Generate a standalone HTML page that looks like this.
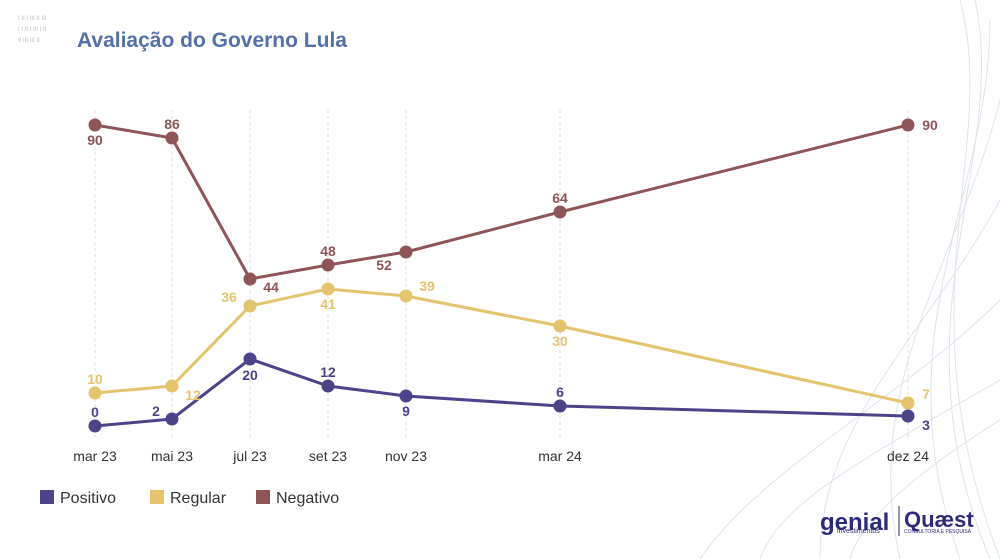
<!DOCTYPE html>
<html><head><meta charset="utf-8"><style>
html,body{margin:0;padding:0;background:#fff;width:1000px;height:559px;overflow:hidden;font-family:"Liberation Sans",sans-serif}
</style></head><body>
<svg width="1000" height="559" viewBox="0 0 1000 559" xmlns="http://www.w3.org/2000/svg" font-family="Liberation Sans, sans-serif">
<g stroke="#dde3ec" stroke-width="1" fill="none">
<path d="M960 0 C 1000 150, 900 300, 1000 559"/>
<path d="M975 0 C 1010 160, 890 320, 990 559"/>
<path d="M990 20 C 990 200, 880 330, 960 559"/>
<path d="M1000 100 C 960 260, 860 380, 900 559"/>
<path d="M1000 200 C 930 330, 820 420, 820 559"/>
<path d="M1000 300 C 900 400, 760 470, 700 559"/>
<path d="M1000 380 C 880 450, 780 500, 760 559"/>
<path d="M1000 420 C 920 470, 860 520, 850 559"/>
</g>
<g fill="#b8bcc8" font-size="6">
<text x="18" y="20">I  I&#8203;I I III  II  III</text>
<text x="18" y="31">I  I II  I  III I II</text>
<text x="18" y="42">II III  III  II</text>
</g>
<text x="77" y="47" font-size="21" font-weight="bold" fill="#5470a8">Avaliação do Governo Lula</text>
<g stroke="#dcdcdc" stroke-dasharray="3,3">
<line x1="95" y1="110" x2="95" y2="440"/><line x1="172" y1="110" x2="172" y2="440"/>
<line x1="250" y1="110" x2="250" y2="440"/><line x1="328" y1="110" x2="328" y2="440"/>
<line x1="406" y1="110" x2="406" y2="440"/><line x1="560" y1="110" x2="560" y2="440"/>
<line x1="908" y1="110" x2="908" y2="440"/>
</g>
<g font-size="14" fill="#333" text-anchor="middle">
<text x="95" y="461">mar 23</text><text x="172" y="461">mai 23</text><text x="250" y="461">jul 23</text>
<text x="328" y="461">set 23</text><text x="406" y="461">nov 23</text><text x="560" y="461">mar 24</text><text x="908" y="461">dez 24</text>
</g>
<g fill="none" stroke-width="3">
<polyline stroke="#8e5558" points="95,125 172,138 250,279 328,265 406,252 560,212 908,125"/>
<polyline stroke="#e3c46c" points="95,393 172,386 250,306 328,289 406,296 560,326 908,403"/>
<polyline stroke="#4b4488" points="95,426 172,419 250,359 328,386 406,396 560,406 908,416"/>
</g>
<g fill="#8e5558"><circle cx="95" cy="125" r="6.5"/><circle cx="172" cy="138" r="6.5"/><circle cx="250" cy="279" r="6.5"/><circle cx="328" cy="265" r="6.5"/><circle cx="406" cy="252" r="6.5"/><circle cx="560" cy="212" r="6.5"/><circle cx="908" cy="125" r="6.5"/></g>
<g fill="#e3c46c"><circle cx="95" cy="393" r="6.5"/><circle cx="172" cy="386" r="6.5"/><circle cx="250" cy="306" r="6.5"/><circle cx="328" cy="289" r="6.5"/><circle cx="406" cy="296" r="6.5"/><circle cx="560" cy="326" r="6.5"/><circle cx="908" cy="403" r="6.5"/></g>
<g fill="#4b4488"><circle cx="95" cy="426" r="6.5"/><circle cx="172" cy="419" r="6.5"/><circle cx="250" cy="359" r="6.5"/><circle cx="328" cy="386" r="6.5"/><circle cx="406" cy="396" r="6.5"/><circle cx="560" cy="406" r="6.5"/><circle cx="908" cy="416" r="6.5"/></g>
<g font-size="14" font-weight="bold" fill="#8e5558" text-anchor="middle">
<text x="95" y="145">90</text><text x="172" y="129">86</text><text x="271" y="292">44</text><text x="328" y="256">48</text>
<text x="384" y="270">52</text><text x="560" y="203">64</text><text x="930" y="130">90</text>
</g>
<g font-size="14" font-weight="bold" fill="#e3c46c" text-anchor="middle">
<text x="95" y="384">10</text><text x="193" y="400">12</text><text x="229" y="302">36</text><text x="328" y="309">41</text>
<text x="427" y="291">39</text><text x="560" y="346">30</text><text x="926" y="399">7</text>
</g>
<g font-size="14" font-weight="bold" fill="#4b4488" text-anchor="middle">
<text x="95" y="417">0</text><text x="156" y="416">2</text><text x="250" y="380">20</text><text x="328" y="377">12</text>
<text x="406" y="416">9</text><text x="560" y="397">6</text><text x="926" y="430">3</text>
</g>
<rect x="40" y="490" width="14" height="14" fill="#4b4488"/><text x="60" y="503" font-size="16" fill="#333">Positivo</text>
<rect x="150" y="490" width="14" height="14" fill="#e3c46c"/><text x="170" y="503" font-size="16" fill="#333">Regular</text>
<rect x="256" y="490" width="14" height="14" fill="#8e5558"/><text x="276" y="503" font-size="16" fill="#333">Negativo</text>
<text x="820" y="530" font-size="24" font-weight="bold" fill="#2e2a7a">genial</text>
<text x="837" y="533" font-size="7" fill="#2e2a7a">investimentos</text>
<line x1="899" y1="506" x2="899" y2="536" stroke="#2e2a7a" stroke-width="1"/>
<text x="904" y="527" font-size="22" font-weight="bold" fill="#2e2a7a">Quæst</text>
<text x="904" y="533" font-size="5" fill="#2e2a7a">CONSULTORIA E PESQUISA</text>
</svg>
</body></html>
